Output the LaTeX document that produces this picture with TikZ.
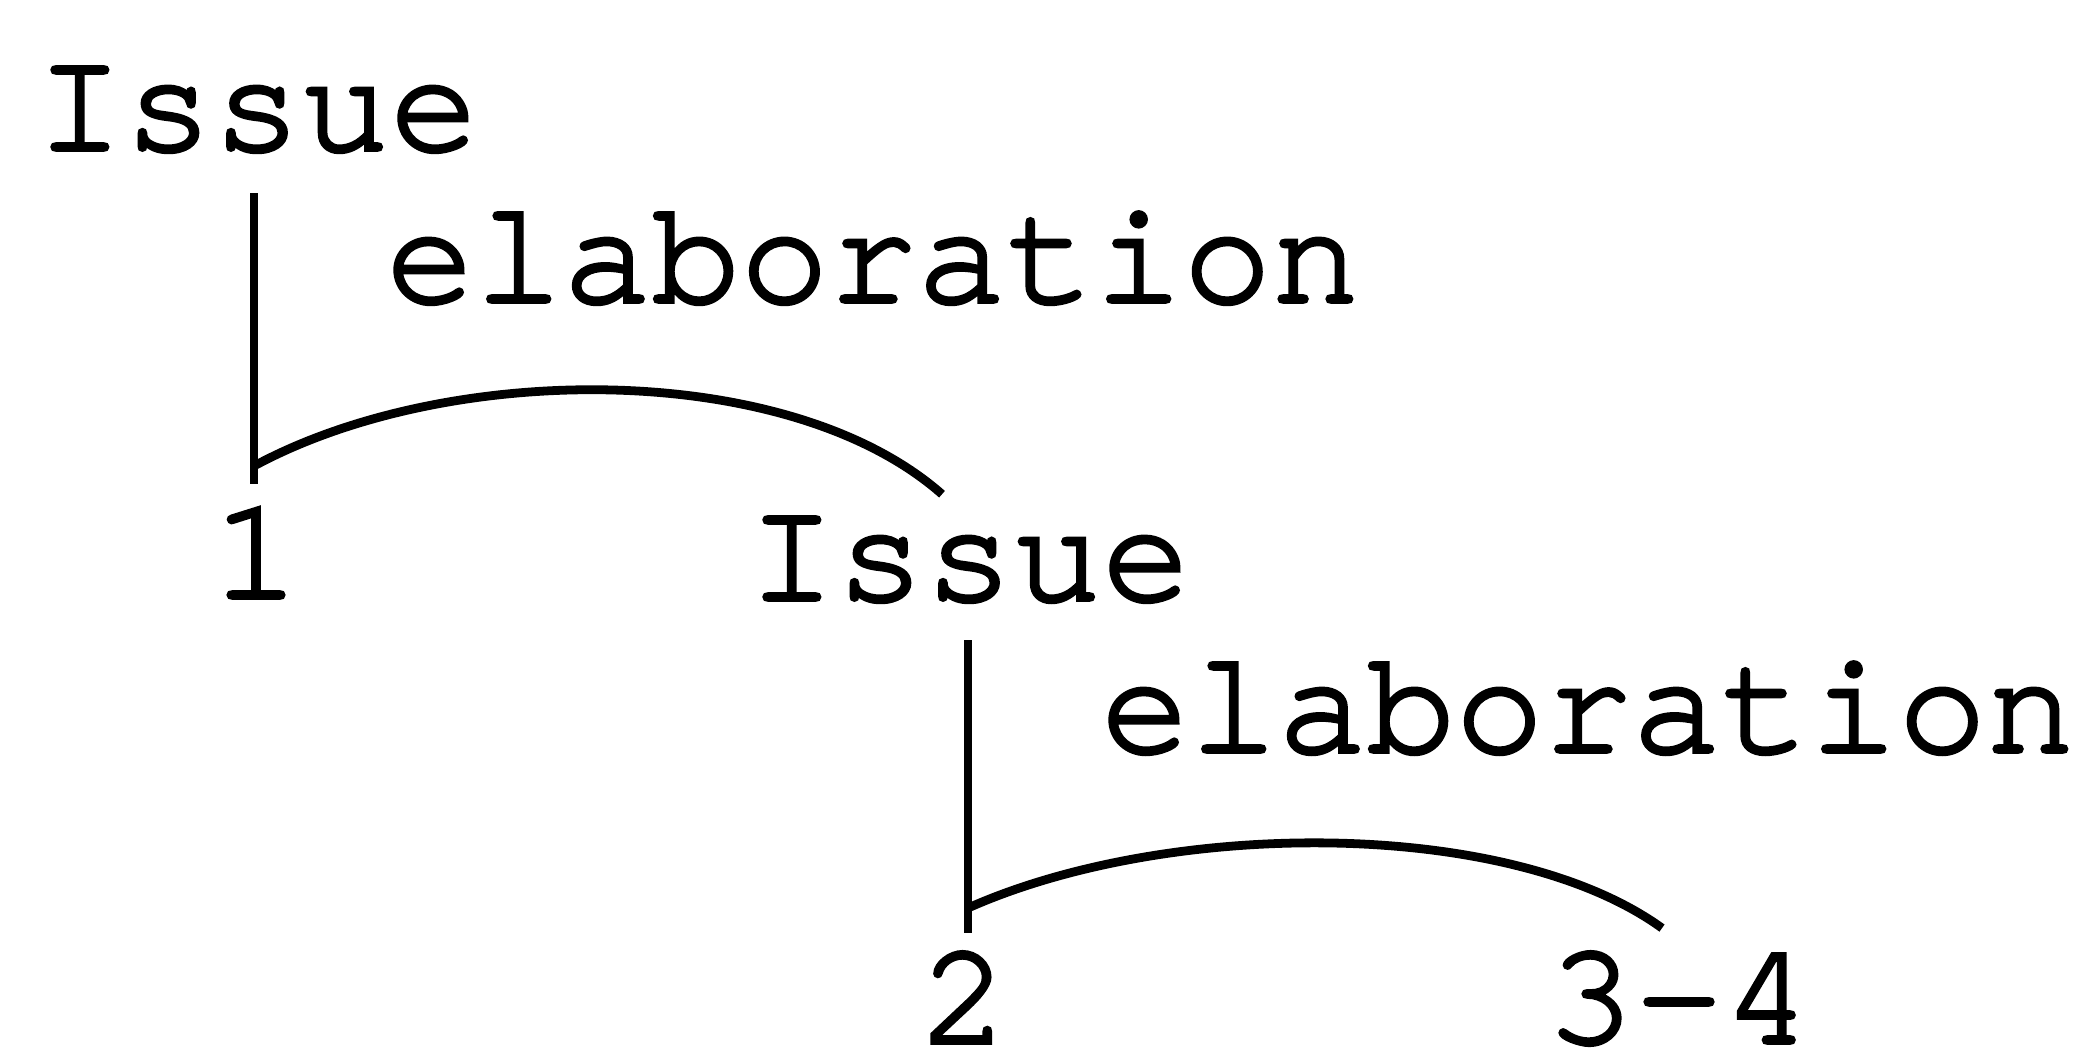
\documentclass[tikz,border=0pt]{standalone}
\usepackage{fontspec}
\newfontfamily\treefont{texgyrecursor-regular.otf}[FakeBold=2.5]
\begin{document}
\begin{tikzpicture}[every node/.style={font=\treefont\fontsize{42}{50}\selectfont,inner sep=0pt,anchor=base},
	rel/.style={line width=2.5pt}]
	\useasboundingbox (0,0) rectangle (20.87,-10.55);
	\node(IssueA) at (2.57,-1.50){Issue};
	\node(ElabA) at (8.73,-3.02){elaboration};
	\node(NumA) at (2.56,-5.98){1};
	\node(IssueB) at (9.69,-6.00){Issue};
	\node(ElabB) at (15.88,-7.52){elaboration};
	\node(NumB) at (9.64,-10.43){2};
	\node(NumC) at (16.79,-10.43){3-4};
	
	\coordinate(FootA) at (2.54,-4.84);
	\coordinate(FootB) at (9.68,-9.33);
	
	\draw[rel] ([yshift=-0.40cm]IssueA.south -| FootA) -- (FootA);
	\draw[rel] ([yshift=0.18cm]FootA) .. controls (4.5,-3.6) and (7.9,-3.6) .. ([shift={(-0.27,0.22)}]IssueB.north);
	\draw[rel] ([yshift=-0.37cm]IssueB.south -| FootB) -- (FootB);
	\draw[rel] ([yshift=0.25cm]FootB) .. controls (11.7,-8.18) and (15.1,-8.18) .. ([shift={(-0.17,0.23)}]NumC.north);
\end{tikzpicture}
\end{document}
